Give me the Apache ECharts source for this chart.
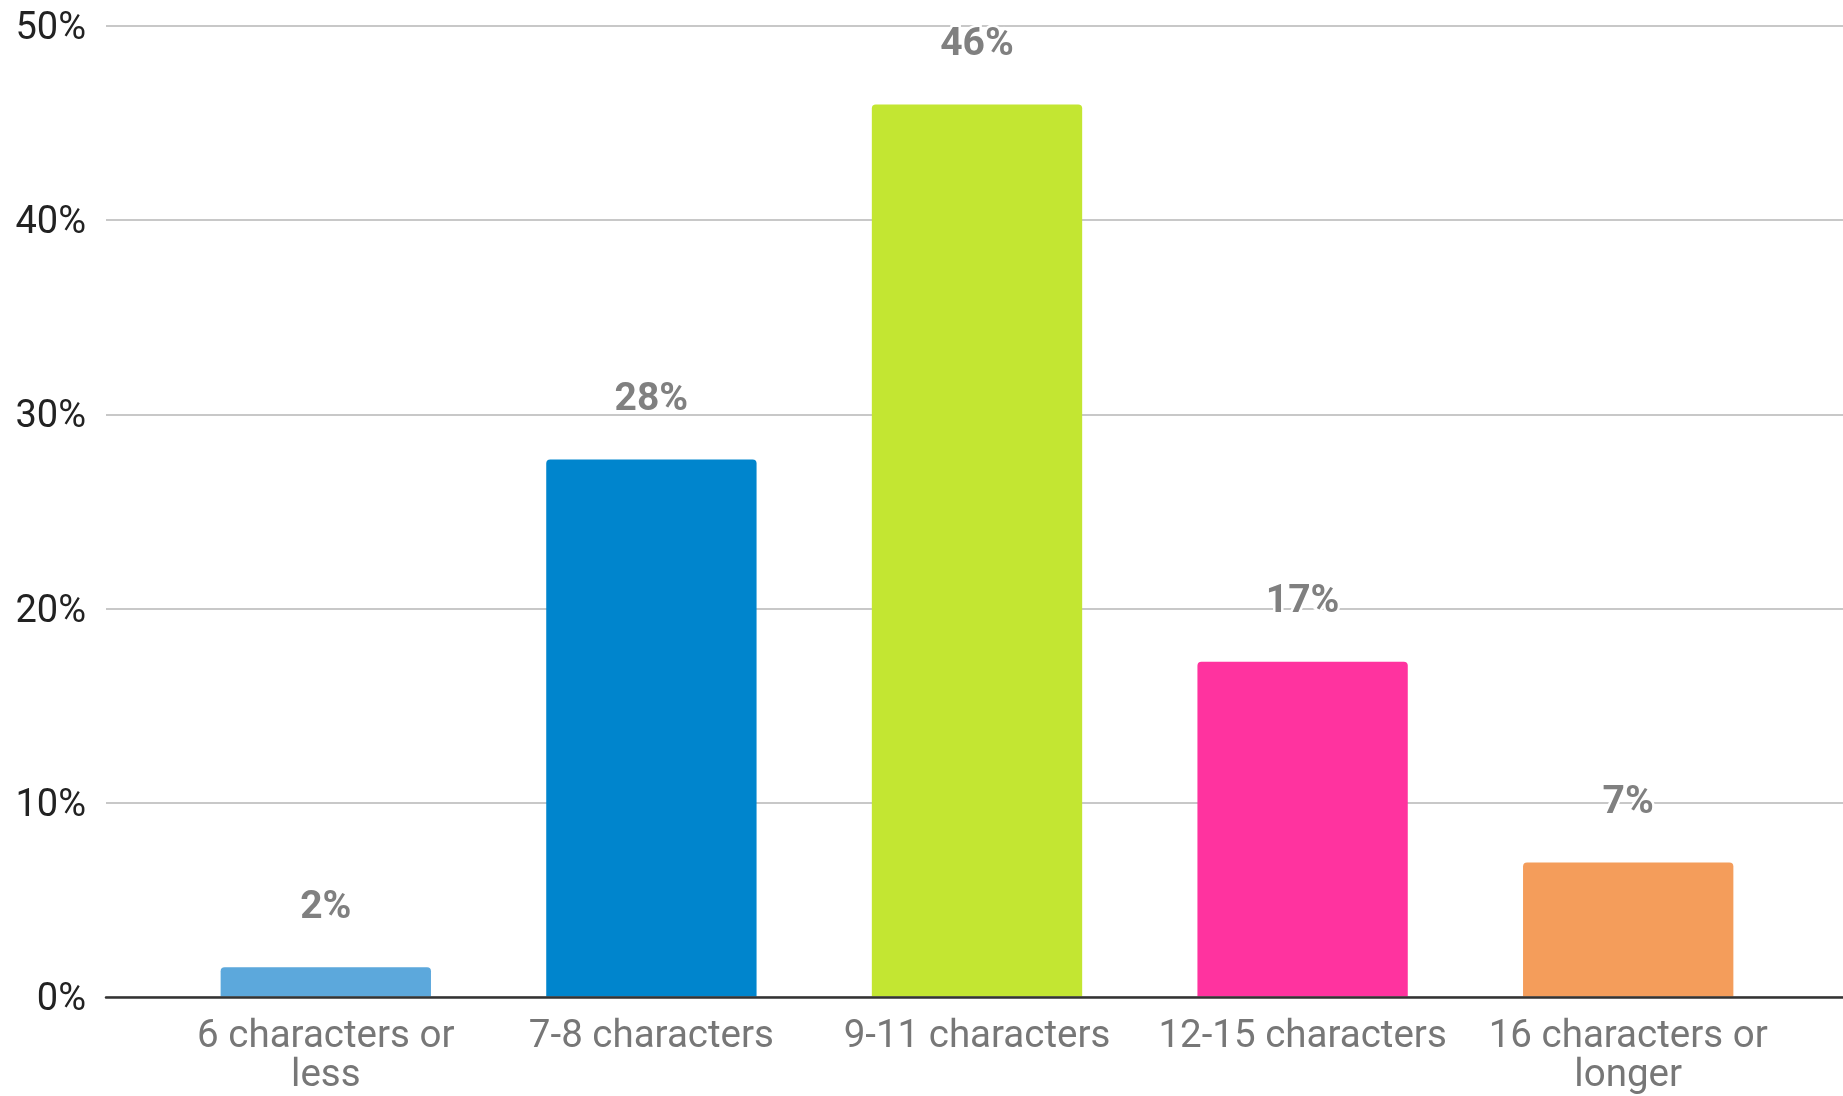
<!DOCTYPE html>
<html>
<head>
<meta charset="utf-8">
<title>Password length</title>
<script src="https://cdn.jsdelivr.net/npm/echarts@6/dist/echarts.min.js"></script>
<style>
  html, body { margin: 0; padding: 0; background: #ffffff; }
  #chart { width: 1843px; height: 1096px; }
</style>
</head>
<body>
<div id="chart"></div>
<script>
// Share of passwords by length bucket (percent)
const categories = [
  '6 characters or\nless',
  '7-8 characters',
  '9-11 characters',
  '12-15 characters',
  '16 characters or\nlonger'
];
const shares = [1.51, 27.66, 45.95, 17.25, 6.9];
const barColors = ['#5ca8dc', '#0085cd', '#c3e632', '#ff339f', '#f49d5b'];
const yTicks = { min: 0, max: 50, interval: 10 };

const FONT = 'Roboto, "Noto Sans", sans-serif';
const chart = echarts.init(document.getElementById('chart'), null, { renderer: 'canvas' });

chart.setOption({
  animation: false,
  backgroundColor: '#ffffff',
  grid: [
    // full-width frame carrying the gridlines and baseline
    { left: 106, right: 0, top: 26, bottom: 99 },
    // inner band holding the category columns; its floor sits just under the baseline
    { left: 163, right: 52, top: 26, bottom: 97.5 }
  ],
  xAxis: [
    {
      type: 'category', gridIndex: 0, data: categories, z: 5,
      axisLine: { show: true, lineStyle: { color: '#333333', width: 2.5 } },
      axisTick: { show: false }, axisLabel: { show: false }, splitLine: { show: false }
    },
    {
      type: 'category', gridIndex: 1, data: categories,
      axisLine: { show: false }, axisTick: { show: false },
      axisLabel: {
        color: '#777777', fontFamily: FONT, fontSize: 38.5, lineHeight: 39,
        margin: 21.5, interval: 0
      }
    }
  ],
  yAxis: [
    {
      type: 'value', gridIndex: 0, min: yTicks.min, max: yTicks.max, interval: yTicks.interval,
      axisLine: { show: false }, axisTick: { show: false },
      axisLabel: {
        formatter: '{value}%', color: '#222222', fontFamily: FONT, fontSize: 38,
        margin: 20, verticalAlign: 'top', lineHeight: 7
      },
      splitLine: { lineStyle: { color: '#c8c8c8', width: 2 } }
    },
    {
      type: 'value', gridIndex: 1, min: yTicks.min, max: yTicks.max, interval: yTicks.interval,
      show: false, splitLine: { show: false }
    }
  ],
  series: [
    {
      type: 'bar', xAxisIndex: 1, yAxisIndex: 1,
      barWidth: '64.6%',
      data: shares.map((v, i) => ({ value: v, itemStyle: { color: barColors[i] } })),
      itemStyle: { borderRadius: [4, 4, 0, 0] },
      label: {
        show: true, position: 'top', distance: 39,
        formatter: p => Math.round(p.value) + '%',
        color: '#808080', fontFamily: FONT, fontWeight: 'bold', fontSize: 39, lineHeight: 40,
        textBorderColor: '#ffffff', textBorderWidth: 5
      }
    }
  ]
});
</script>
</body>
</html>
